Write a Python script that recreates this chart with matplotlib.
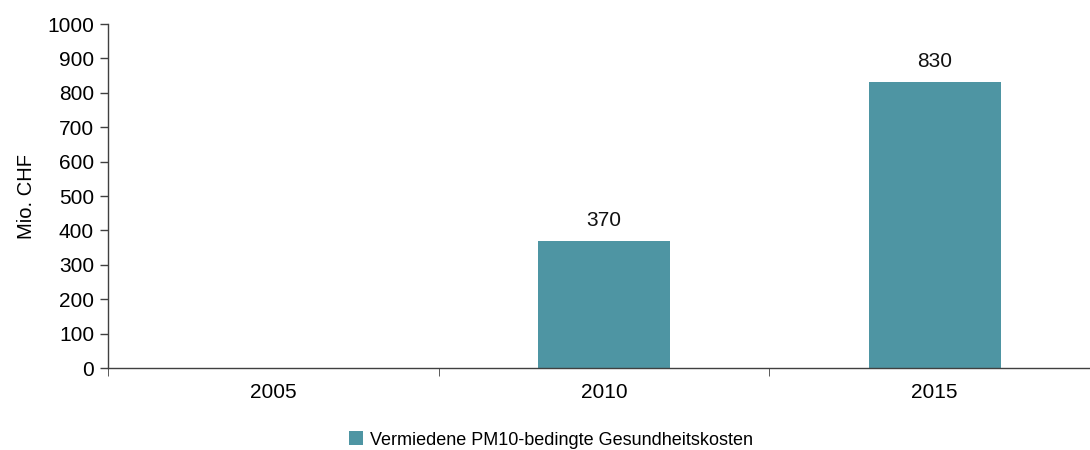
import matplotlib
matplotlib.use("Agg")
import matplotlib.pyplot as plt
from matplotlib.patches import Patch

categories = ["2005", "2010", "2015"]
values = [0, 370, 830]
labels = ["", "370", "830"]
series_name = "Vermiedene PM10-bedingte Gesundheitskosten"
yticks = [0, 100, 200, 300, 400, 500, 600, 700, 800, 900, 1000]

plt.rcParams['font.family'] = ['Liberation Sans', 'DejaVu Sans']
color = "#4E95A3"
fs = 15

fig = plt.figure(figsize=(10.9, 4.5), dpi=100)
ax = fig.add_axes([108/1090, 1-368/450, (1100-108)/1090, (368-24)/450])

x = list(range(len(categories)))
bars = ax.bar(x, values, width=0.4, color=color, zorder=2)
for xi, v, lab in zip(x, values, labels):
    if lab:
        ax.annotate(lab, (xi, v), xytext=(0, 8), textcoords="offset points",
                    ha="center", va="bottom", fontsize=fs, color="#111111")

ax.set_xlim(-0.5, 2.5)
ax.set_ylim(0, 1000)
ax.set_yticks(yticks)
ax.set_yticklabels([str(t) for t in yticks], fontsize=fs)
ax.set_xticks(x)
ax.set_xticklabels(categories, fontsize=fs)
ax.tick_params(axis="x", length=0, pad=11)
ax.set_xticks([-0.5, 0.5, 1.5], minor=True)
ax.tick_params(axis="x", which="minor", length=6, direction="out", color="#404040")
ax.tick_params(axis="y", length=6, direction="out", color="#404040", width=1, pad=4)
for s in ["top", "right"]:
    ax.spines[s].set_visible(False)
for s in ["left", "bottom"]:
    ax.spines[s].set_color("#404040")
    ax.spines[s].set_linewidth(1)
ax.set_ylabel("Mio. CHF", fontsize=fs - 0.5, labelpad=8)

handle = Patch(facecolor=color, edgecolor="none")
fig.legend([handle], [series_name], loc="center", bbox_to_anchor=(551/1090, 1-440/450),
           frameon=False, fontsize=13, handlelength=0.8, handleheight=0.8, handletextpad=0.4)

fig.savefig("out.png", dpi=100)
